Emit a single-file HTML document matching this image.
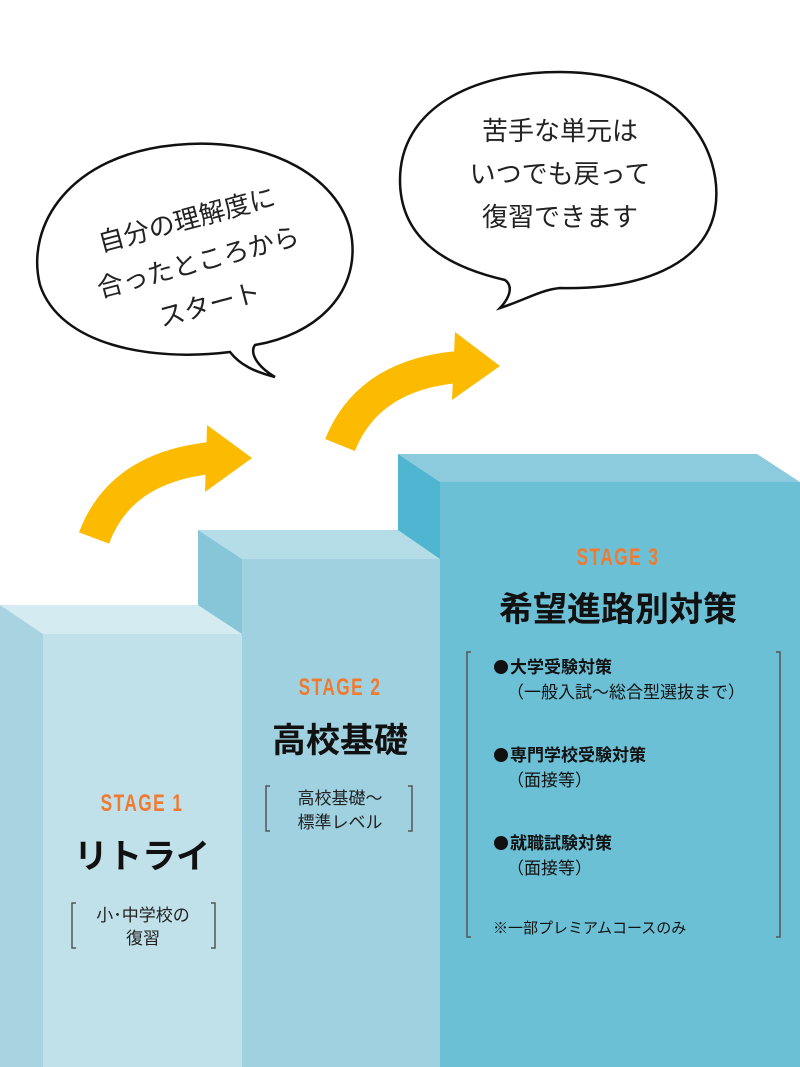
<!DOCTYPE html>
<html><head><meta charset="utf-8"><style>
html,body{margin:0;padding:0;background:#fff}
svg{display:block}
text{font-family:"Liberation Sans","Noto Sans CJK JP",sans-serif}
.st{font-family:"Liberation Sans",sans-serif;fill:#f07a30;font-size:24px;letter-spacing:2px;font-weight:bold}
</style></head><body>
<svg width="800" height="1067" viewBox="0 0 800 1067" xmlns="http://www.w3.org/2000/svg">
<polygon points="398,454 757,454 800,482 440,482" fill="#8ccbdd"/>
<polygon points="398,454 440,482 440,1067 398,1067" fill="#4fb5d0"/>
<rect x="440" y="482" width="360" height="585" fill="#6cc0d6"/>
<polygon points="198,530 398,530 440,559 242,559" fill="#b4dde8"/>
<polygon points="198,530 242,559 242,1067 198,1067" fill="#86c6d8"/>
<rect x="242" y="559" width="198" height="508" fill="#9fd1e0"/>
<polygon points="0,605 198,605 242,634 43,634" fill="#d4ebf1"/>
<polygon points="0,605 43,634 43,1067 0,1067" fill="#a8d4e2"/>
<rect x="43" y="634" width="199" height="433" fill="#c0e0ea"/>

<g fill="none" stroke="#fcbb00" stroke-width="32">
<path d="M94,538 Q120,468 210,458"/>
<path d="M340,445 Q368,375 458,367"/>
</g>
<polygon points="207,425 252,458 205,492" fill="#fcbb00"/>
<polygon points="455,332 500,366 452,400" fill="#fcbb00"/>

<g fill="#fff" stroke="#111" stroke-width="2.5">
<path d="M560,72 C680,72 725,150 715,210 C705,265 640,290 560,288 C540,290 525,300 500,308 C512,295 512,285 505,280 C440,265 400,235 400,180 C400,110 470,72 560,72 Z"/>
<path d="M175,145 C270,135 345,180 352,240 C358,295 315,335 255,345 C250,352 255,365 275,377 C255,372 240,365 230,352 C150,362 60,345 40,285 C25,225 70,155 175,145 Z"/>
</g>
<g font-size="26" fill="#222" text-anchor="middle">
<text x="560" y="140">苦手な単元は</text>
<text x="560" y="183">いつでも戻って</text>
<text x="560" y="226">復習できます</text>
</g>
<g font-size="26" fill="#222" text-anchor="middle" transform="rotate(-15 195 262)">
<text x="198" y="228">自分の理解度に</text>
<text x="198" y="272">合ったところから</text>
<text x="198" y="316">スタート</text>
</g>

<g transform="translate(142 811) scale(0.72 1)"><text class="st" text-anchor="middle">STAGE 1</text></g>
<text x="142" y="868" font-size="34" font-weight="bold" text-anchor="middle" fill="#111">リトライ</text>
<g stroke="#555" stroke-width="1.5" fill="none">
<path d="M76,903 h-4 v45 h4"/><path d="M211,903 h4 v45 h-4"/>
<path d="M270,786 h-4 v45 h4"/><path d="M408,786 h4 v45 h-4"/>
<path d="M471,652 h-4 v285 h4"/><path d="M776,652 h4 v285 h-4"/>
</g>
<g font-size="17" fill="#222" text-anchor="middle">
<text x="143" y="921">小･中学校の</text>
<text x="143" y="944">復習</text>
<text x="340" y="804">高校基礎～</text>
<text x="340" y="828">標準レベル</text>
</g>
<g transform="translate(340 695) scale(0.72 1)"><text class="st" text-anchor="middle">STAGE 2</text></g>
<text x="340" y="752" font-size="34" font-weight="bold" text-anchor="middle" fill="#111">高校基礎</text>
<g transform="translate(618 565) scale(0.72 1)"><text class="st" text-anchor="middle">STAGE 3</text></g>
<text x="618" y="621" font-size="34" font-weight="bold" text-anchor="middle" fill="#111">希望進路別対策</text>
<g fill="#111">
<circle cx="501" cy="667" r="7"/><circle cx="501" cy="755" r="7"/><circle cx="501" cy="843" r="7"/>
</g>
<g font-size="17" fill="#111">
<text x="510" y="673" font-weight="bold">大学受験対策</text>
<text x="507" y="698">（一般入試～総合型選抜まで）</text>
<text x="510" y="761" font-weight="bold">専門学校受験対策</text>
<text x="507" y="786">（面接等）</text>
<text x="510" y="849" font-weight="bold">就職試験対策</text>
<text x="507" y="874">（面接等）</text>
<text x="493" y="933" font-size="15">※一部プレミアムコースのみ</text>
</g>
</svg>
</body></html>
